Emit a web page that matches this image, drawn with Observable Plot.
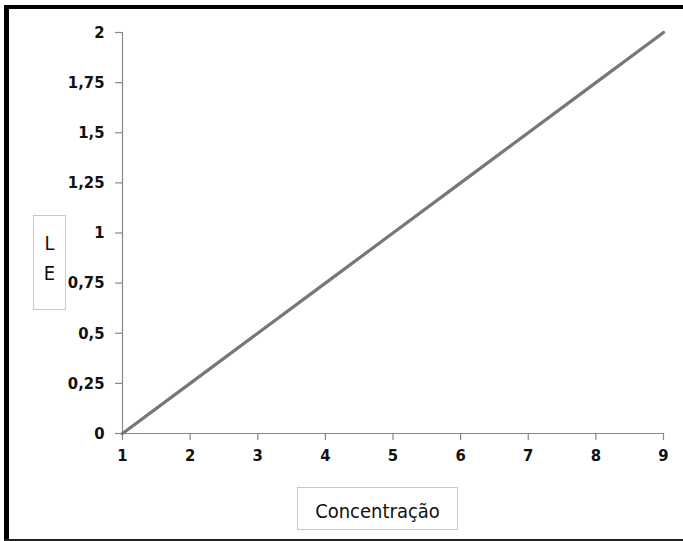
<!DOCTYPE html>
<html>
<head>
<meta charset="utf-8">
<script src="https://cdn.jsdelivr.net/npm/d3@7"></script>
<script src="https://cdn.jsdelivr.net/npm/@observablehq/plot@0.6"></script>
<style>
  html, body { margin: 0; padding: 0; background: #fff; }
  #wrap { position: relative; width: 683px; height: 541px; overflow: hidden; background: #fff; }
  #chart { position: absolute; left: 0; top: 0; }
  .bar { position: absolute; background: #000; }
  .lbl { position: absolute; border: 1.5px solid #c8c8c8; box-sizing: border-box; background: #fff;
         font-family: "DejaVu Sans Condensed", sans-serif; color: #111; }
</style>
</head>
<body>
<div id="wrap">
  <div id="chart"></div>
  <div class="bar" style="left:4px; top:5px; width:679px; height:4px;"></div>
  <div class="bar" style="left:4px; top:5px; width:5px; height:536px;"></div>
  <div class="bar" style="left:4px; top:539px; width:679px; height:2px; background:#222;"></div>
  <div class="lbl" id="ylab" style="left:33px; top:215px; width:33px; height:95px; font-size:20px; text-align:center; line-height:30px; padding-top:12px;">L<br>E</div>
  <div class="lbl" id="xlab" style="left:297px; top:487px; width:161px; height:43px; font-size:20px; text-align:center; line-height:41px; padding-top:3px;">Concentração</div>
</div>
<script>
const concentracao = [1, 2, 3, 4, 5, 6, 7, 8, 9];
const le = [0, 0.25, 0.5, 0.75, 1, 1.25, 1.5, 1.75, 2];
const xTicks = [1, 2, 3, 4, 5, 6, 7, 8, 9];
const yTicks = [0, 0.25, 0.5, 0.75, 1, 1.25, 1.5, 1.75, 2];

const data = concentracao.map((c, i) => ({x: c, y: le[i]}));
const fmt = d => String(d).replace(".", ",");

const chart = Plot.plot({
  width: 683,
  height: 541,
  marginLeft: 122,
  marginRight: 20,
  marginTop: 32,
  marginBottom: 108,
  style: {fontFamily: "'DejaVu Sans Condensed', sans-serif", fontSize: "16.5px", fontWeight: "bold", color: "#111", background: "transparent"},
  x: {domain: [1, 9], label: null},
  y: {domain: [0, 2], label: null},
  marks: [
    Plot.axisY({ticks: yTicks, tickFormat: fmt, tickSize: 7, tickPadding: 11, stroke: "#888", strokeWidth: 1.2, fill: "#111", label: null}),
    Plot.axisX({ticks: xTicks, tickFormat: fmt, tickSize: 7, tickPadding: 9, stroke: "#888", strokeWidth: 1.2, fill: "#111", label: null}),
    Plot.ruleX([1], {stroke: "#888", strokeWidth: 1.2}),
    Plot.ruleY([0], {stroke: "#888", strokeWidth: 1.2}),
    Plot.line(data, {x: "x", y: "y", stroke: "#777", strokeWidth: 3.2})
  ]
});
document.getElementById("chart").appendChild(chart);
</script>
</body>
</html>
